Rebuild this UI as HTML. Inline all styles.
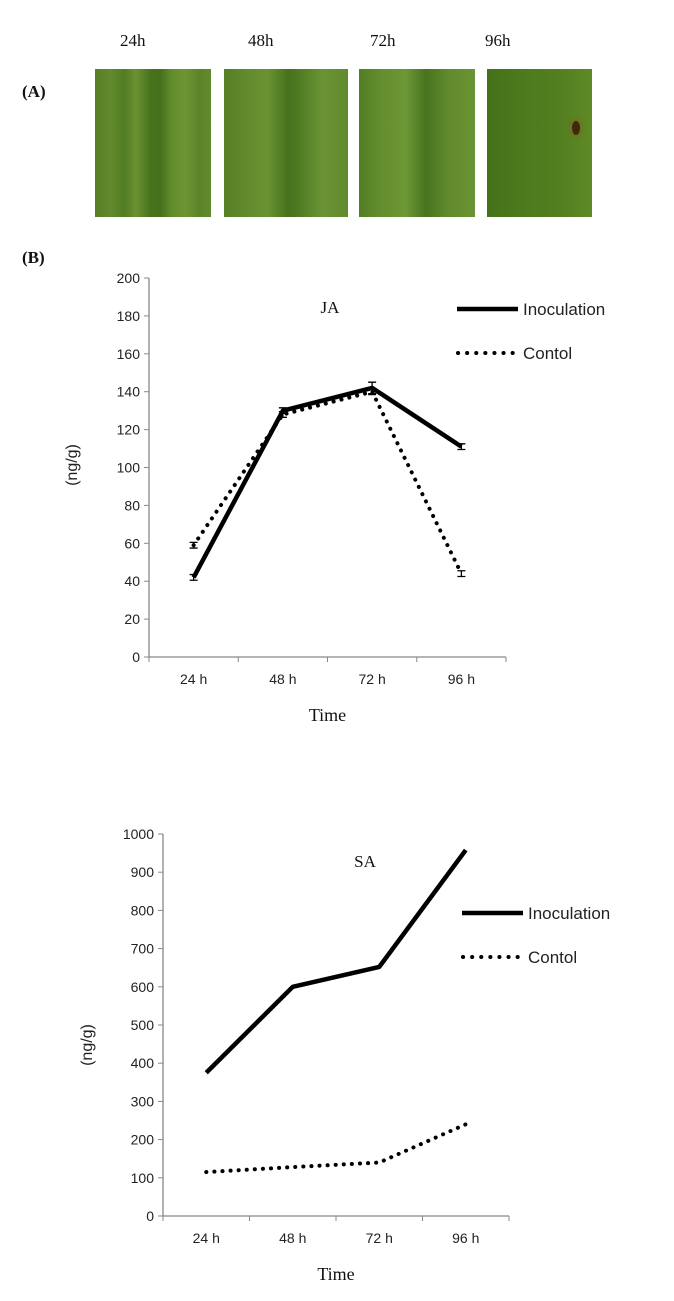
<!DOCTYPE html>
<html><head><meta charset="utf-8">
<style>
html,body{margin:0;padding:0;background:#fff;width:674px;height:1301px;overflow:hidden}
svg{position:absolute;left:0;top:0}
.leaf{position:absolute;top:69px;height:148px}
.lbl{position:absolute;font-family:"Liberation Serif",serif;font-size:17px;color:#111}
</style></head><body>
<div class="lbl" style="left:22px;top:82px;font-weight:bold">(A)</div>
<div class="lbl" style="left:120px;top:31px">24h</div>
<div class="lbl" style="left:248px;top:31px">48h</div>
<div class="lbl" style="left:370px;top:31px">72h</div>
<div class="lbl" style="left:485px;top:31px">96h</div>
<div class="leaf" style="left:95px;width:116px;background:linear-gradient(90deg,#567f26 0%,#62892c 14%,#527c24 25%,#6a9232 35%,#48731e 48%,#44701b 56%,#638c2e 66%,#6c9534 78%,#5b8429 90%,#628b2e 100%)"></div>
<div class="leaf" style="left:224px;width:124px;background:linear-gradient(90deg,#567f26 0%,#60892c 15%,#6a9333 35%,#46721d 52%,#527d24 62%,#6a9434 80%,#608a2d 100%)"></div>
<div class="leaf" style="left:359px;width:116px;background:linear-gradient(90deg,#527d24 0%,#638d2e 18%,#6e9736 40%,#48741f 58%,#5f892c 75%,#6b9434 100%)"></div>
<div class="leaf" style="left:487px;width:105px;background:linear-gradient(90deg,#457219 0%,#4d7b1d 40%,#537f21 70%,#5f8a25 100%)"><div style="position:absolute;left:85px;top:52px;width:8px;height:14px;border-radius:50%;background:#3a2a10;box-shadow:0 0 4px 2px #7a6a20"></div></div>

<svg id="chart" width="674" height="1301"></svg>
<script>
const categories=["24 h","48 h","72 h","96 h"];
const jaInoc=[42,130,142,111];
const jaCtrl=[59,128,140,44];
const jaInocErr=[1.5,1.5,3,1.5];
const jaCtrlErr=[1.5,1.5,1.5,1.5];
const jaTicks=[0,20,40,60,80,100,120,140,160,180,200];
const saInoc=[375,600,652,958];
const saCtrl=[115,128,140,240];
const saTicks=[0,100,200,300,400,500,600,700,800,900,1000];

const NS="http://www.w3.org/2000/svg";
const svg=document.getElementById('chart');
function mk(t,a,txt){const e=document.createElementNS(NS,t);for(const k in a)e.setAttribute(k,a[k]);if(txt!==undefined)e.textContent=txt;svg.appendChild(e);return e;}

function drawChart(cfg){
  const {x0,x1,yTop,yBot,max,ticks,inoc,ctrl,inErr,ctErr,title,tx,ty,lx,ly,ylx,yly,timeY,pre}=cfg;
  const cw=(x1-x0)/categories.length;
  const X=i=>x0+cw*(i+0.5);
  const Y=v=>yBot-(v/max)*(yBot-yTop);
  let e=mk('line',{x1:x0,y1:yTop,x2:x0,y2:yBot,stroke:'#888','stroke-width':1.3});
  
  e=mk('line',{x1:x0,y1:yBot,x2:x1,y2:yBot,stroke:'#888','stroke-width':1.3});
  
  ticks.forEach(t=>{
    e=mk('line',{x1:x0-5,y1:Y(t),x2:x0,y2:Y(t),stroke:'#888'});
    
    e=mk('text',{x:x0-9,y:Y(t)+5,'text-anchor':'end','font-family':'Liberation Sans, sans-serif','font-size':14,fill:'#222'},t);
    
  });
  for(let i=0;i<=categories.length;i++){
    e=mk('line',{x1:x0+cw*i,y1:yBot,x2:x0+cw*i,y2:yBot+5,stroke:'#888'});
    
  }
  categories.forEach((c,i)=>{
    e=mk('text',{x:X(i),y:yBot+27,'text-anchor':'middle','font-family':'Liberation Sans, sans-serif','font-size':14,fill:'#222'},c);
    
  });
  const pts=a=>a.map((v,i)=>X(i)+','+Y(v)).join(' ');
  e=mk('polyline',{points:pts(ctrl),fill:'none',stroke:'#000','stroke-width':4,'stroke-dasharray':'0.1 8','stroke-linecap':'round'});
  
  e=mk('polyline',{points:pts(inoc),fill:'none',stroke:'#000','stroke-width':4.5,'stroke-linejoin':'round'});
  
  [[inoc,inErr],[ctrl,ctErr]].forEach(([s,er])=>{
    if(!er)return;
    s.forEach((v,i)=>{
      const h=er[i]*1.9;
      e=mk('path',{d:`M${X(i)} ${Y(v)-h}V${Y(v)+h}M${X(i)-4} ${Y(v)-h}h8M${X(i)-4} ${Y(v)+h}h8`,stroke:'#000','stroke-width':1.3,fill:'none'});
      
    });
  });
  e=mk('text',{x:tx,y:ty,'text-anchor':'middle','font-family':'Liberation Serif, serif','font-size':17,fill:'#111'},title);
  
  e=mk('line',{x1:lx,y1:ly,x2:lx+61,y2:ly,stroke:'#000','stroke-width':4.5});
  
  e=mk('text',{x:lx+66,y:ly+6,'font-family':'Liberation Sans, sans-serif','font-size':17,fill:'#222'},'Inoculation');
  
  e=mk('line',{x1:lx+1,y1:ly+44,x2:lx+56,y2:ly+44,stroke:'#000','stroke-width':4,'stroke-dasharray':'0.1 9','stroke-linecap':'round'});
  
  e=mk('text',{x:lx+66,y:ly+50,'font-family':'Liberation Sans, sans-serif','font-size':17,fill:'#222'},'Contol');
  
  e=mk('text',{x:ylx,y:yly,'text-anchor':'middle','font-family':'Liberation Sans, sans-serif','font-size':16,fill:'#222',transform:`rotate(-90 ${ylx} ${yly})`},'(ng/g)');
  
  e=mk('text',{x:(x0+x1)/2,y:timeY,'text-anchor':'middle','font-family':'Liberation Serif, serif','font-size':18,fill:'#111'},'Time');
  
}
drawChart({pre:'ja',x0:149,x1:506,yTop:278,yBot:657,max:200,ticks:jaTicks,inoc:jaInoc,ctrl:jaCtrl,inErr:jaInocErr,ctErr:jaCtrlErr,title:'JA',tx:330,ty:313,lx:457,ly:309,ylx:77,yly:465,timeY:721});
drawChart({pre:'sa',x0:163,x1:509,yTop:834,yBot:1216,max:1000,ticks:saTicks,inoc:saInoc,ctrl:saCtrl,inErr:null,ctErr:null,title:'SA',tx:365,ty:867,lx:462,ly:913,ylx:92,yly:1045,timeY:1280});
let b=mk('text',{x:22,y:263,'font-family':'Liberation Serif, serif','font-size':17,'font-weight':'bold',fill:'#111'},'(B)');


</script>
</body></html>
